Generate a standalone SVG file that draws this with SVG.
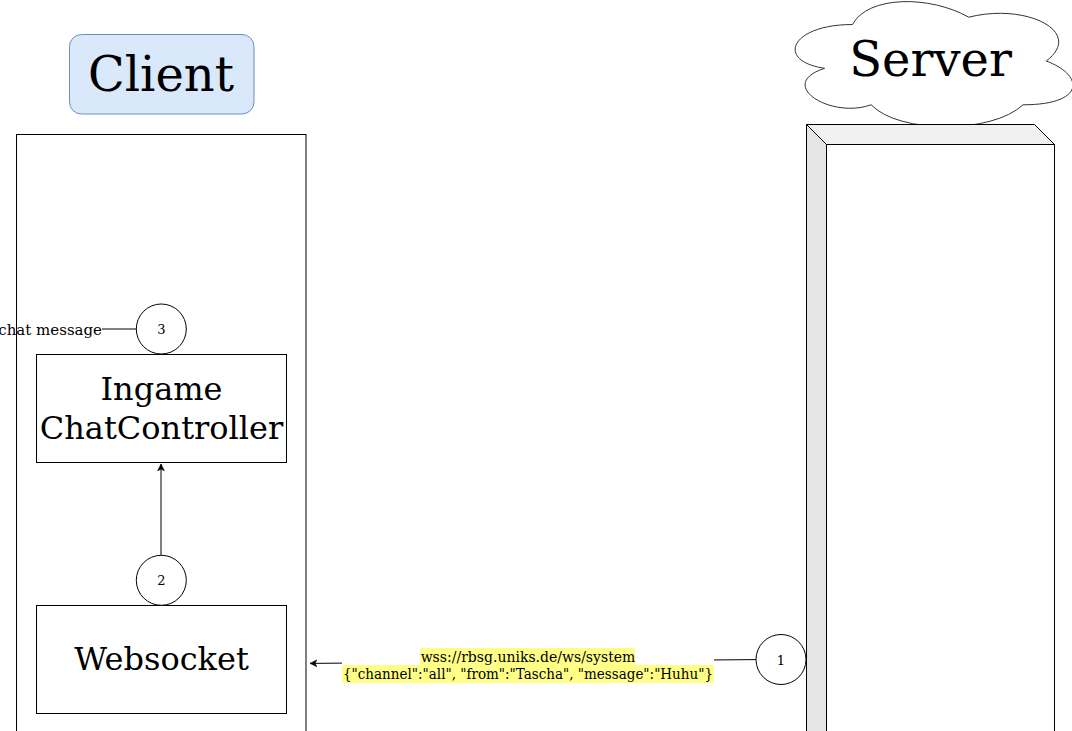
<svg xmlns="http://www.w3.org/2000/svg" width="1072" height="731" viewBox="0 0 1072 731">
<style>
  text { font-family: "DejaVu Serif", "Liberation Serif", serif; fill: #000; }
  .box { fill: none; stroke: #000; stroke-width: 1; }
  .wbox { fill: #fff; stroke: #000; stroke-width: 1; }
  .circ { fill: #fff; stroke: #000; stroke-width: 1; }
  .num { font-size: 13px; text-anchor: middle; }
  .big { font-size: 48px; text-anchor: middle; }
  .mid { font-size: 32px; text-anchor: middle; }
  .edge { fill: none; stroke: #000; stroke-width: 1; }
  .lbl { font-size: 14px; text-anchor: middle; }
  .hl { fill: #ffff88; }
</style>
<defs>
  <marker id="arrow" markerWidth="10" markerHeight="10" refX="7" refY="4" orient="auto" markerUnits="userSpaceOnUse">
    <path d="M7,4 L0,0.5 L2,4 L0,7.5 Z" fill="#000" stroke="#000" stroke-width="0.5"/>
  </marker>
</defs>
<rect x="0" y="0" width="1072" height="731" fill="#fff"/>

<g id="client-header">
  <rect x="69.5" y="34.5" width="184.5" height="79.5" rx="12" ry="12" fill="#dae8fc" stroke="#6c8ebf" stroke-width="1"/>
  <text class="big" x="161" y="91">Client</text>
</g>

<g id="client-container">
  <rect class="box" x="16.5" y="134.5" width="289.5" height="620"/>
</g>

<g id="server-cloud">
  <path d="M 852.5 24.5 C 790.5 24.5 775 61 824.6 68.3 C 775 84.36 830.8 119.4 871.1 104.8 C 899 134 992 134 1023 104.8 C 1085 104.8 1085 75.6 1046.25 61 C 1085 31.8 1026.1 2.6 968.75 17.2 C 930 -4.7 868 -4.7 852.5 24.5 Z" fill="#fff" stroke="#333" stroke-width="1"/>
  <text class="big" x="930.5" y="76">Server</text>
</g>

<g id="server-box">
  <polygon points="806.5,124.5 1034.5,124.5 1054.5,144.5 826.5,144.5" fill="#f1f1f1" stroke="#000" stroke-width="1"/>
  <polygon points="806.5,124.5 826.5,144.5 826.5,760 806.5,760" fill="#e6e6e6" stroke="#000" stroke-width="1"/>
  <rect class="wbox" x="826.5" y="144.5" width="228" height="620"/>
</g>

<g id="ingame-chat-controller">
  <rect class="wbox" x="36.5" y="354.5" width="250" height="108"/>
  <text class="mid" x="161.5" y="400">Ingame</text>
  <text class="mid" x="161.5" y="438.5">ChatController</text>
</g>

<g id="websocket">
  <rect class="wbox" x="36.5" y="605.5" width="250" height="108"/>
  <text class="mid" x="161.5" y="670">Websocket</text>
</g>

<g id="connectors">
  <line class="edge" x1="136" y1="329" x2="102" y2="329"/>
  <line class="edge" x1="161" y1="555" x2="161" y2="464" marker-end="url(#arrow)"/>
  <line class="edge" x1="756" y1="659.6" x2="310" y2="663.4" marker-end="url(#arrow)"/>
</g>

<g id="edge-label-1">
  <rect x="342" y="648" width="372" height="35" fill="#fff"/>
  <rect class="hl" x="420" y="648" width="215" height="17"/>
  <rect class="hl" x="342" y="665" width="372" height="18"/>
  <text class="lbl" x="528" y="662">wss://rbsg.uniks.de/ws/system</text>
  <text class="lbl" x="528" y="679" textLength="370" lengthAdjust="spacingAndGlyphs">{"channel":"all", "from":"Tascha", "message":"Huhu"}</text>
</g>

<g id="chat-message-label">
  <text x="102" y="335" font-size="15" text-anchor="end">chat message</text>
</g>

<g id="step-3">
  <circle class="circ" cx="161.3" cy="329" r="25"/>
  <text class="num" x="161.3" y="334">3</text>
</g>

<g id="step-2">
  <circle class="circ" cx="161.3" cy="580.3" r="25"/>
  <text class="num" x="161.3" y="585">2</text>
</g>

<g id="step-1">
  <circle class="circ" cx="781" cy="659.5" r="25"/>
  <text class="num" x="781" y="664.5">1</text>
</g>
</svg>
